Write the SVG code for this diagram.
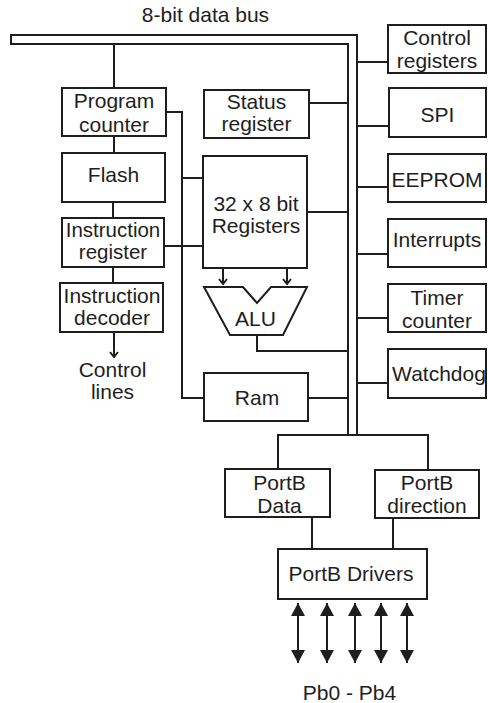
<svg xmlns="http://www.w3.org/2000/svg" width="488" height="703" viewBox="0 0 488 703">
<defs>
<style>
.b{fill:#fff;stroke:#1e1e1e;stroke-width:2}
.l{fill:none;stroke:#1e1e1e;stroke-width:2}
.t{font-family:"Liberation Sans",Arial,sans-serif;font-size:21px;fill:#1e1e1e;text-anchor:middle}
</style>
<marker id="v" viewBox="0 0 10 10" refX="9" refY="5" markerWidth="10" markerHeight="10" markerUnits="userSpaceOnUse" orient="auto-start-reverse">
<path d="M4,1 L9,5 L4,9" fill="none" stroke="#1e1e1e" stroke-width="2"/>
</marker>
<marker id="f" viewBox="0 0 13 14" refX="13" refY="7" markerWidth="13" markerHeight="14" markerUnits="userSpaceOnUse" orient="auto-start-reverse">
<path d="M0,0 L13,7 L0,14 Z" fill="#1e1e1e"/>
</marker>
</defs>
<rect width="488" height="703" fill="#fff"/>
<text class="t" x="205.5" y="22">8-bit data bus</text>

<g id="connectors">
<path class="l" d="M357,435 L357,35 L11,35 L11,44 L348,44 L348,435"/>
<path class="l" d="M278,469 L278,435 L428,435 L428,470"/>
<path class="l" d="M114,44 V88 M114,136 V153 M113,202 V218 M113,267 V283"/>
<path class="l" d="M114,332 V357" marker-end="url(#v)"/>
<path class="l" d="M166,112 H182 V398 H204 M182,178 H203 M164,246 H203"/>
<path class="l" d="M309,103 H348 M307,212 H348 M257,335 V351 H348 M308,398 H348"/>
<path class="l" d="M357,62 H388 M357,126 H388 M357,187 H388 M357,254 H388 M357,318 H388 M357,383 H388"/>
<path class="l" d="M223,268 V284" marker-end="url(#v)"/>
<path class="l" d="M287,268 V284" marker-end="url(#v)"/>
<path class="l" d="M312,517 V549 M393,518 V549"/>
<path class="l" d="M298,603 V663" marker-start="url(#f)" marker-end="url(#f)"/>
<path class="l" d="M327,603 V663" marker-start="url(#f)" marker-end="url(#f)"/>
<path class="l" d="M355,603 V663" marker-start="url(#f)" marker-end="url(#f)"/>
<path class="l" d="M381,603 V663" marker-start="url(#f)" marker-end="url(#f)"/>
<path class="l" d="M407,603 V663" marker-start="url(#f)" marker-end="url(#f)"/>
</g>

<g id="program-counter"><rect class="b" x="62" y="88" width="104" height="48"/><text class="t" x="114" y="108">Program</text><text class="t" x="114" y="132">counter</text></g>
<g id="flash"><rect class="b" x="62" y="153" width="103" height="49"/><text class="t" x="113.5" y="182">Flash</text></g>
<g id="instruction-register"><rect class="b" x="62" y="218" width="102" height="49"/><text class="t" x="113" y="237" style="font-size:20.5px">Instruction</text><text class="t" x="113" y="259" style="font-size:20.5px">register</text></g>
<g id="instruction-decoder"><rect class="b" x="60" y="283" width="103" height="49"/><text class="t" x="112" y="303">Instruction</text><text class="t" x="112" y="325">decoder</text></g>
<g id="control-lines"><text class="t" x="112.5" y="377">Control</text><text class="t" x="112.5" y="399">lines</text></g>

<g id="status-register"><rect class="b" x="204" y="90" width="105" height="48"/><text class="t" x="256.5" y="109">Status</text><text class="t" x="256.5" y="131">register</text></g>
<g id="registers"><rect class="b" x="203" y="156" width="104" height="112"/><text class="t" x="256" y="211">32 x 8 bit</text><text class="t" x="256" y="233">Registers</text></g>
<g id="alu"><path class="b" d="M204,287 L243,287 L257,303 L271,287 L307,287 L283,335 L230,335 Z"/><text class="t" x="255.5" y="326">ALU</text></g>
<g id="ram"><rect class="b" x="204" y="373" width="104" height="48"/><text class="t" x="257" y="405">Ram</text></g>

<g id="control-registers"><rect class="b" x="388" y="25" width="98" height="48"/><text class="t" x="437" y="45">Control</text><text class="t" x="437" y="68">registers</text></g>
<g id="spi"><rect class="b" x="389" y="88" width="97" height="49"/><text class="t" x="437.5" y="122">SPI</text></g>
<g id="eeprom"><rect class="b" x="388" y="154" width="98" height="48"/><text class="t" x="437" y="187">EEPROM</text></g>
<g id="interrupts"><rect class="b" x="388" y="219" width="98" height="48"/><text class="t" x="437" y="247">Interrupts</text></g>
<g id="timer-counter"><rect class="b" x="388" y="284" width="98" height="48"/><text class="t" x="437" y="305">Timer</text><text class="t" x="437" y="328">counter</text></g>
<g id="watchdog"><rect class="b" x="388" y="349" width="98" height="49"/><text class="t" x="439" y="381">Watchdog</text></g>

<g id="portb-data"><rect class="b" x="225" y="469" width="105" height="48"/><text class="t" x="279.5" y="490">PortB</text><text class="t" x="279.5" y="513">Data</text></g>
<g id="portb-direction"><rect class="b" x="375" y="470" width="104" height="48"/><text class="t" x="427" y="490">PortB</text><text class="t" x="427" y="513">direction</text></g>
<g id="portb-drivers"><rect class="b" x="278" y="549" width="149" height="50"/><text class="t" x="351" y="581">PortB Drivers</text></g>
<g id="pins"><text class="t" x="349.5" y="700">Pb0 - Pb4</text></g>
</svg>
